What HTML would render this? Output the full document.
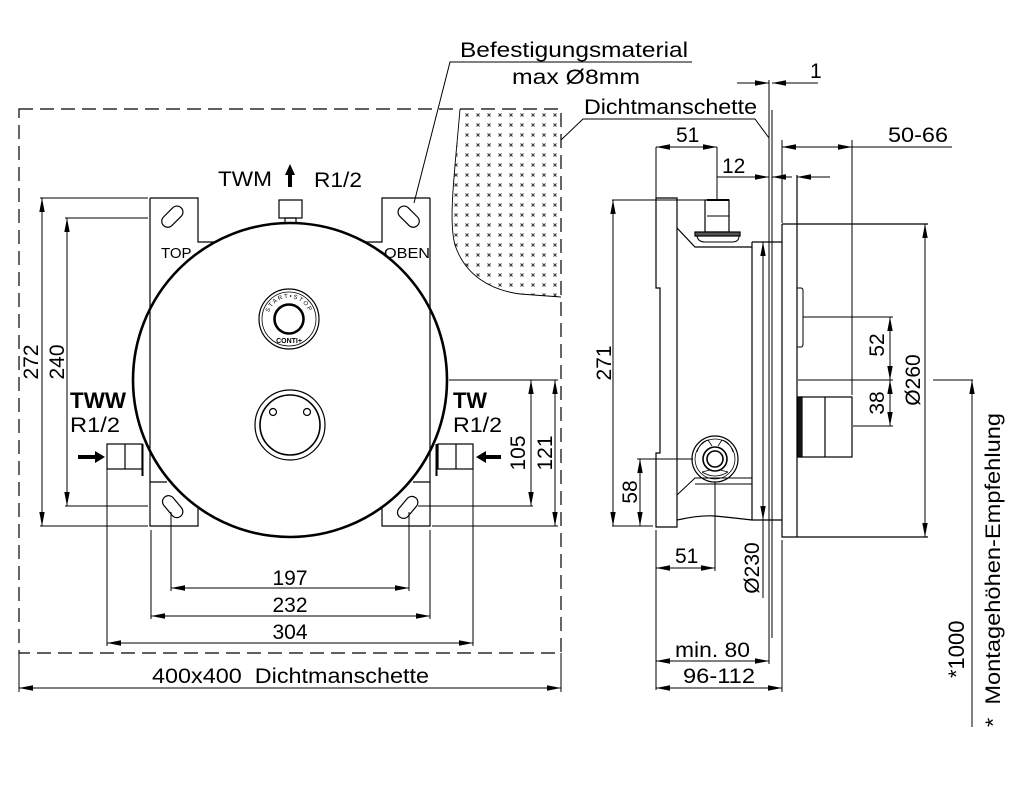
<!DOCTYPE html>
<html><head><meta charset="utf-8"><style>
html,body{margin:0;padding:0;background:#fff;}
svg{display:block;}
text{font-family:"Liberation Sans",sans-serif;fill:#000;}
</style></head><body>
<svg width="1020" height="787" viewBox="0 0 1020 787" xmlns="http://www.w3.org/2000/svg">
<defs>
<marker id="a" markerUnits="userSpaceOnUse" markerWidth="14" markerHeight="6" refX="14" refY="3" orient="auto-start-reverse"><path d="M0,0.3 L14,3 L0,5.7z" fill="#000"/></marker>
<pattern id="h" width="11" height="10" patternUnits="userSpaceOnUse"><path d="M3.5,3.5 l3,3 M6.5,3.5 l-3,3" stroke="#333" stroke-width="1"/></pattern>
<path id="arcT" d="M268,319 A21,21 0 0 1 310,319"/>
</defs>
<g fill="none" stroke="#000" stroke-width="1.2">
<rect x="19" y="109" width="542" height="544" stroke-dasharray="14,7"/>
<path d="M460,109 C455,170 448,220 455,245 C465,275 490,290 520,294 L561,297 L561,109 Z" fill="url(#h)" stroke="none"/>
<path d="M460,109 C455,170 448,220 455,245 C465,275 490,290 520,294 L561,297" stroke-width="0.9"/>
<path d="M414,203 L450,62 L692,62" stroke-width="1"/>
<path d="M561,140 L583,119 L755,119 L769,138" stroke-width="1"/>
<!-- plate -->
<path d="M150,198 H198 V242 H215 M150,198 V526 H198 V507 M150,482 H167"/>
<path d="M430,198 H382 V242 H365 M430,198 V526 H382 V507 M430,482 H413"/>
<circle cx="290" cy="380" r="157" stroke-width="2.6"/>
<rect x="279" y="200" width="23" height="18"/>
<rect x="285" y="218" width="11" height="5"/>
<rect x="160" y="211" width="25" height="12" rx="6" transform="rotate(-45 172 217)"/>
<rect x="396" y="211" width="25" height="12" rx="6" transform="rotate(45 409 217)"/>
<rect x="160" y="501" width="25" height="12" rx="6" transform="rotate(50 173 507)"/>
<rect x="395" y="501" width="25" height="12" rx="6" transform="rotate(-50 408 507)"/>
<circle cx="289" cy="319" r="30"/>
<circle cx="289" cy="319" r="27" stroke-width="0.8"/>
<circle cx="289" cy="319" r="14.5" stroke-width="2.6"/>
<circle cx="290" cy="425" r="35"/>
<circle cx="290" cy="425" r="30" stroke-width="1.6"/>
<circle cx="273" cy="412" r="3.5"/>
<circle cx="307" cy="412" r="3.5"/>
<rect x="107" y="444" width="35" height="25"/>
<line x1="125" y1="444" x2="125" y2="469"/>
<path d="M142.5,444 V476" stroke-width="2"/>
<rect x="438" y="444" width="35" height="25"/>
<line x1="456" y1="444" x2="456" y2="469"/>
<path d="M436.5,444 V476" stroke-width="2"/>
<path d="M40,198 H148 M40,526 H148 M65,218 H148 M65,506 H148" stroke-width="1"/>
<line x1="42" y1="198" x2="42" y2="526" marker-start="url(#a)" marker-end="url(#a)" stroke-width="1"/>
<line x1="67" y1="218" x2="67" y2="506" marker-start="url(#a)" marker-end="url(#a)" stroke-width="1"/>
<path d="M449,380 H558 M418,506 H533 M432,526 H558" stroke-width="1"/>
<line x1="531" y1="380" x2="531" y2="506" marker-start="url(#a)" marker-end="url(#a)" stroke-width="1"/>
<line x1="555" y1="380" x2="555" y2="526" marker-start="url(#a)" marker-end="url(#a)" stroke-width="1"/>
<path d="M107,469 V646 M151,530 V619 M171,512 V591 M409,512 V591 M430,530 V619 M473,469 V646" stroke-width="1"/>
<line x1="171" y1="588" x2="409" y2="588" marker-start="url(#a)" marker-end="url(#a)" stroke-width="1"/>
<line x1="151" y1="616" x2="430" y2="616" marker-start="url(#a)" marker-end="url(#a)" stroke-width="1"/>
<line x1="107" y1="643" x2="473" y2="643" marker-start="url(#a)" marker-end="url(#a)" stroke-width="1"/>
<path d="M19,653 V692 M561,653 V692" stroke-width="1"/>
<line x1="19" y1="688" x2="561" y2="688" marker-start="url(#a)" marker-end="url(#a)" stroke-width="1"/>

<path d="M769,80 V638 M772,110 V638" stroke-width="1"/>
<line x1="737" y1="83" x2="769" y2="83" marker-end="url(#a)" stroke-width="1"/>
<line x1="818" y1="83" x2="772" y2="83" marker-end="url(#a)" stroke-width="1"/>
<path d="M656,198 H677 V527 H656 V453 H660 V288 H656 Z"/>
<path d="M656,288 V198 M660,308 V327 M660,372 V390" stroke-width="1"/>
<rect x="705" y="200" width="24" height="32"/>
<line x1="707" y1="200" x2="729" y2="200" stroke-width="2"/>
<line x1="707" y1="216" x2="729" y2="216" stroke-width="1"/>
<rect x="695" y="232" width="45" height="4" fill="#555"/>
<path d="M697,236 Q698,242 705,242 H732 Q739,242 739,236" stroke-width="1"/>
<path d="M677,228 L695,247 H752"/>
<path d="M752,242 H782 M752,242 V520 M677,520 Q700,515 715,516 Q735,518 752,520 H782" />
<path d="M677,495 L695,478 H752 M695,484 H752" stroke-width="1"/>
<circle cx="715" cy="459" r="23"/>
<circle cx="715" cy="459" r="20" stroke-width="0.8"/>
<circle cx="715" cy="459" r="12" stroke-width="1.6"/>
<circle cx="715" cy="459" r="8" stroke-width="1.6"/>
<path d="M697,452 Q700,442 708,440 L712,446 M733,452 Q730,442 722,440 L718,446 M702,472 L710,470 M728,472 L720,470 M702,472 Q715,480 728,472" stroke-width="0.8"/>
<line x1="637" y1="459" x2="693" y2="459" stroke-width="1"/>
<line x1="763" y1="242" x2="763" y2="520" marker-start="url(#a)" marker-end="url(#a)" stroke-width="1"/>
<line x1="763" y1="520" x2="763" y2="598" stroke-width="1"/>
<path d="M782,224 V537 H928 M782,224 H928 M797,175 V537"/>
<path d="M797,288 H801 Q803,288 803,291 V344 Q803,347 801,347 H797" stroke-width="1"/>
<line x1="925" y1="224" x2="925" y2="537" marker-start="url(#a)" marker-end="url(#a)" stroke-width="1"/>
<rect x="798" y="397" width="4" height="60" fill="#333"/>
<rect x="800" y="397" width="52" height="60"/>
<line x1="825" y1="397" x2="825" y2="457"/>
<path d="M803,317 H893 M798,380 H893 M853,426 H893" stroke-width="1"/>
<line x1="890" y1="317" x2="890" y2="380" marker-start="url(#a)" marker-end="url(#a)" stroke-width="1"/>
<line x1="890" y1="380" x2="890" y2="426" marker-start="url(#a)" marker-end="url(#a)" stroke-width="1"/>
<path d="M656,147 V198 M717,147 V200 M782,140 V223 M852,140 V395 M797,175 V180" stroke-width="1"/>
<line x1="656" y1="147" x2="717" y2="147" marker-start="url(#a)" marker-end="url(#a)" stroke-width="1"/>
<line x1="717" y1="177" x2="769" y2="177" marker-end="url(#a)" stroke-width="1"/>
<line x1="792" y1="177" x2="772" y2="177" marker-end="url(#a)" stroke-width="1"/>
<line x1="782" y1="147" x2="852" y2="147" marker-start="url(#a)" marker-end="url(#a)" stroke-width="1"/>
<line x1="852" y1="147" x2="952" y2="147" stroke-width="1"/>
<line x1="830" y1="177" x2="797" y2="177" marker-end="url(#a)" stroke-width="1"/>
<path d="M612,200 H705 M612,526 H653" stroke-width="1"/>
<line x1="613" y1="200" x2="613" y2="526" marker-start="url(#a)" marker-end="url(#a)" stroke-width="1"/>
<line x1="640" y1="459" x2="640" y2="526" marker-start="url(#a)" marker-end="url(#a)" stroke-width="1"/>
<path d="M656,530 V690 M715,482 V571 M782,540 V692 M769,638 V664" stroke-width="1"/>
<line x1="656" y1="568" x2="715" y2="568" marker-start="url(#a)" marker-end="url(#a)" stroke-width="1"/>
<line x1="656" y1="661" x2="769" y2="661" marker-start="url(#a)" marker-end="url(#a)" stroke-width="1"/>
<line x1="656" y1="688" x2="782" y2="688" marker-start="url(#a)" marker-end="url(#a)" stroke-width="1"/>
<line x1="933" y1="380" x2="973" y2="380" stroke-width="1"/>
<line x1="972" y1="727" x2="972" y2="380" marker-end="url(#a)" stroke-width="1"/>
</g>
<path d="M288,187 V175 H285 L290,164 L295,175 H292 V187 Z" fill="#000"/>
<path d="M78,455 H95 V451 L105,457 L95,463 V459 H78 Z" fill="#000"/>
<path d="M501,455 H486 V451 L476,457 L486,463 V459 H501 Z" fill="#000"/>
<g font-size="21">
<text x="460" y="57" textLength="228" lengthAdjust="spacingAndGlyphs">Befestigungsmaterial</text>
<text x="512" y="84" textLength="128" lengthAdjust="spacingAndGlyphs">max Ø8mm</text>
<text x="584" y="114" textLength="173" lengthAdjust="spacingAndGlyphs">Dichtmanschette</text>
<text x="218" y="186" textLength="54" lengthAdjust="spacingAndGlyphs">TWM</text>
<text x="314" y="187" textLength="48" lengthAdjust="spacingAndGlyphs">R1/2</text>
<text x="70" y="408" font-size="22" font-weight="bold" textLength="56" lengthAdjust="spacingAndGlyphs">TWW</text>
<text x="70" y="432" textLength="50" lengthAdjust="spacingAndGlyphs">R1/2</text>
<text x="453" y="408" font-size="22" font-weight="bold" textLength="34" lengthAdjust="spacingAndGlyphs">TW</text>
<text x="453" y="432" textLength="49" lengthAdjust="spacingAndGlyphs">R1/2</text>
<text x="290" y="585" text-anchor="middle">197</text>
<text x="290" y="612" text-anchor="middle">232</text>
<text x="290" y="639" text-anchor="middle">304</text>
<text x="152" y="683" textLength="277" lengthAdjust="spacingAndGlyphs" xml:space="preserve">400x400  Dichtmanschette</text>
<text transform="translate(38,362) rotate(-90)" text-anchor="middle">272</text>
<text transform="translate(64,362) rotate(-90)" text-anchor="middle">240</text>
<text transform="translate(525,453) rotate(-90)" text-anchor="middle">105</text>
<text transform="translate(552,453) rotate(-90)" text-anchor="middle">121</text>
<text x="810" y="78">1</text>
<text x="676" y="142">51</text>
<text x="722" y="173">12</text>
<text x="888" y="142" textLength="60" lengthAdjust="spacingAndGlyphs">50-66</text>
<text transform="translate(611,363) rotate(-90)" text-anchor="middle">271</text>
<text transform="translate(637,492) rotate(-90)" text-anchor="middle">58</text>
<text transform="translate(884,345) rotate(-90)" text-anchor="middle">52</text>
<text transform="translate(884,403) rotate(-90)" text-anchor="middle">38</text>
<text transform="translate(920,380) rotate(-90)" text-anchor="middle">Ø260</text>
<text transform="translate(759,568) rotate(-90)" text-anchor="middle">Ø230</text>
<text x="675" y="563">51</text>
<text x="675" y="657" textLength="75" lengthAdjust="spacingAndGlyphs">min. 80</text>
<text x="683" y="683" textLength="72" lengthAdjust="spacingAndGlyphs">96-112</text>
<text transform="translate(964,678) rotate(-90)" font-size="22">*1000</text>
<text transform="translate(1000,727) rotate(-90)" textLength="314" lengthAdjust="spacingAndGlyphs" xml:space="preserve">*  Montagehöhen-Empfehlung</text>
</g>
<text x="161" y="258" font-size="15">TOP</text>
<text x="384" y="258" font-size="15" textLength="46" lengthAdjust="spacingAndGlyphs">OBEN</text>
<text font-size="6" letter-spacing="1.5"><textPath href="#arcT" startOffset="50%" text-anchor="middle">START•STOP</textPath></text>
<text x="289" y="343" font-size="7" font-weight="bold" text-anchor="middle">CONTI+</text>
</svg>
</body></html>
